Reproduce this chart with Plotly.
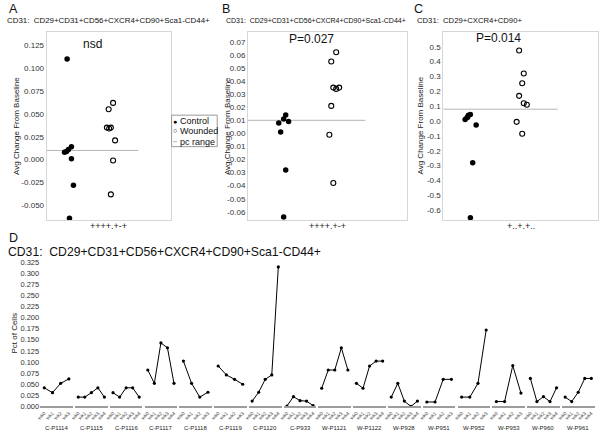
import plotly.graph_objects as go

W, H = 600, 439
FONT = "Liberation Sans, Arial, sans-serif"

# ---------------- data ----------------
# Panels A and B (same phenotype): avg change from baseline per subject
ab_ctrl = [0.110, 0.008, 0.011, 0.014, 0.009, 0.001, -0.028, -0.064]
ab_wound = [0.062, 0.055, 0.035, 0.034, 0.035, 0.021, -0.001, -0.038]
# Panel C
c_ctrl = [0.011, 0.024, 0.040, 0.044, 0.028, -0.026, -0.280, -0.651]
c_wound = [0.475, 0.320, 0.255, 0.170, 0.120, 0.110, -0.005, -0.085]
pc_range = [0.010, 0.010, 0.080]
# horizontal jitter of the points (fraction of the plot width)
a_ctrl_jit = [0.165, 0.144, 0.176, 0.200, 0.160, 0.200, 0.216, 0.184]
a_wound_jit = [0.536, 0.500, 0.486, 0.504, 0.518, 0.552, 0.536, 0.518]
b_ctrl_jit = [0.200, 0.194, 0.225, 0.238, 0.256, 0.206, 0.238, 0.225]
b_wound_jit = [0.556, 0.525, 0.538, 0.556, 0.575, 0.525, 0.513, 0.538]
c_ctrl_jit = [0.141, 0.154, 0.162, 0.175, 0.158, 0.212, 0.190, 0.175]
c_wound_jit = [0.490, 0.520, 0.510, 0.490, 0.520, 0.540, 0.474, 0.510]

# Panel D: pct of cells per visit, per subject
subjects = ["C-P1114", "C-P1115", "C-P1116", "C-P1117", "C-P1118", "C-P1119",
            "C-P1120", "C-P933", "W-P1121", "W-P1122", "W-P928", "W-P951",
            "W-P952", "W-P953", "W-P960", "W-P961"]
week_labels = ["wk0", "wk1", "wk2", "wk3", "wk4"]
c_p1114 = [0.042, 0.031, 0.052, 0.062]
c_p1115 = [0.021, 0.021, 0.031, 0.042, 0.021]
c_p1116 = [0.031, 0.021, 0.042, 0.042, 0.021]
c_p1117 = [0.082, 0.052, 0.143, 0.132, 0.052]
c_p1118 = [0.102, 0.052, 0.021, 0.032]
c_p1119 = [0.091, 0.071, 0.061, 0.050]
c_p1120 = [0.012, 0.032, 0.061, 0.071, 0.314]
c_p933 = [0.001, 0.022, 0.013, 0.012, 0.002]
w_p1121 = [0.041, 0.082, 0.082, 0.132, 0.082]
w_p1122 = [0.052, 0.041, 0.091, 0.102, 0.102]
w_p928 = [0.021, 0.052, 0.012, 0.000, 0.012]
w_p951 = [0.010, 0.010, 0.061, 0.061]
w_p952 = [0.021, 0.021, 0.052, 0.172]
w_p953 = [0.011, 0.011, 0.092, 0.030]
w_p960 = [0.063, 0.011, 0.022, 0.011, 0.042]
w_p961 = [0.021, 0.011, 0.032, 0.063, 0.063]
d_series = [c_p1114, c_p1115, c_p1116, c_p1117, c_p1118, c_p1119, c_p1120, c_p933,
            w_p1121, w_p1122, w_p928, w_p951, w_p952, w_p953, w_p960, w_p961]


def xd(px):
    return px / W


def yd(py):
    return 1 - py / H


fig = go.Figure()
ann = []
shapes = []

# ---------------- panels A, B, C ----------------
top_px, bot_px = 30, 222
abc = [
    dict(k="", x0=42, x1=167, ctrl=ab_ctrl, cj=a_ctrl_jit, wound=ab_wound, wj=a_wound_jit,
         pc=pc_range[0], rng=[-0.0665, 0.140], tick0=-0.050, dt=0.025, n=8, dec=3,
         title="CD31:\u00a0\u00a0CD29+CD31+CD56+CXCR4+CD90+Sca1-CD44+", tx=0, tfs=7.9,
         letter="A", lx=2, stat="nsd", sx=88, sy=43, xl="++++.+-+", ytx=12),
    dict(k="2", x0=245, x1=405, ctrl=ab_ctrl, cj=b_ctrl_jit, wound=ab_wound, wj=b_wound_jit,
         pc=pc_range[1], rng=[-0.0666, 0.0779], tick0=-0.06, dt=0.01, n=14, dec=2,
         title="CD31:\u00a0\u00a0CD29+CD31+CD56+CXCR4+CD90+Sca1-CD44+", tx=221, tfs=7.0,
         letter="B", lx=217, stat="P=0.027", sx=309, sy=38, xl="++++.+-+", ytx=225),
    dict(k="3", x0=442, x1=598, ctrl=c_ctrl, cj=c_ctrl_jit, wound=c_wound, wj=c_wound_jit,
         pc=pc_range[2], rng=[-0.669, 0.603], tick0=-0.6, dt=0.1, n=12, dec=1,
         title="CD31:\u00a0\u00a0CD29+CXCR4+CD90+", tx=413, tfs=7.7,
         letter="C", lx=410, stat="P=0.014", sx=498, sy=37, xl="+..+.+..", ytx=419),
]

for p in abc:
    k = p["k"]
    xa, ya = "x" + k, "y" + k
    fig.add_trace(go.Scatter(x=[0, 0.74], y=[p["pc"], p["pc"]], mode="lines",
                             line=dict(color="#b4b4b4", width=1), xaxis=xa, yaxis=ya,
                             hoverinfo="skip"))
    fig.add_trace(go.Scatter(x=p["cj"], y=p["ctrl"], mode="markers",
                             marker=dict(symbol="circle", size=5.5, color="black"),
                             xaxis=xa, yaxis=ya))
    fig.add_trace(go.Scatter(x=p["wj"], y=p["wound"], mode="markers",
                             marker=dict(symbol="circle-open", size=5, color="black",
                                         line=dict(width=1.1, color="black")),
                             xaxis=xa, yaxis=ya))
    tv = [round(p["tick0"] + i * p["dt"], 4) for i in range(p["n"])]
    tt = [f"{v:.{p['dec']}f}" for v in tv]
    fig.layout["xaxis" + k] = dict(domain=[xd(p["x0"]), xd(p["x1"])], anchor=ya,
                                   range=[0, 1], showticklabels=False, showgrid=False,
                                   zeroline=False, showline=True, mirror=True,
                                   linecolor="#d6d6d6", linewidth=1, ticks="")
    fig.layout["yaxis" + k] = dict(domain=[yd(bot_px), yd(top_px)], anchor=xa,
                                   range=p["rng"], tickvals=tv, ticktext=tt,
                                   tickfont=dict(size=8, color="#333"), showgrid=False,
                                   zeroline=False, showline=True, mirror=True,
                                   linecolor="#d6d6d6", linewidth=1, ticks="")
    ann.append(dict(text=p["letter"], x=xd(p["lx"]), y=yd(7.5), xanchor="left",
                    yanchor="middle", font=dict(size=12.5, color="#111")))
    ann.append(dict(text=p["title"], x=xd(p["tx"]), y=yd(18.5), xanchor="left",
                    yanchor="middle", font=dict(size=p["tfs"], color="#111")))
    ann.append(dict(text=p["stat"], x=xd(p["sx"]), y=yd(p["sy"]), xanchor="center",
                    yanchor="middle", font=dict(size=12, color="#111")))
    ann.append(dict(text=p["xl"], x=xd((p["x0"] + p["x1"]) / 2), y=yd(228),
                    xanchor="center", yanchor="middle", font=dict(size=9, color="#222")))
    ann.append(dict(text="Avg Change From Baseline", x=xd(p["ytx"]), y=yd(126),
                    textangle=-90, xanchor="center", yanchor="middle",
                    font=dict(size=8, color="#222")))

# legend of panel A
shapes.append(dict(type="rect", xref="paper", yref="paper", x0=xd(168), x1=xd(214),
                   y0=yd(147), y1=yd(115), line=dict(color="#999", width=1)))
shapes.append(dict(type="line", xref="paper", yref="paper", x0=xd(169.5), x1=xd(173.5),
                   y0=yd(142), y1=yd(142), line=dict(color="#b4b4b4", width=1)))
ann.append(dict(text="\u25cf", x=xd(171.5), y=yd(121), xanchor="center", yanchor="middle",
                font=dict(size=7, color="black")))
ann.append(dict(text="\u25cb", x=xd(171.5), y=yd(131), xanchor="center", yanchor="middle",
                font=dict(size=7, color="black")))
for txt, yy in [("Control", 121), ("Wounded", 131.5), ("pc range", 142)]:
    ann.append(dict(text=txt, x=xd(174), y=yd(yy), xanchor="left", yanchor="middle",
                    font=dict(size=9, color="#111")))

# ---------------- panel D ----------------
ann.append(dict(text="D", x=xd(2), y=yd(240), xanchor="left", yanchor="middle",
                font=dict(size=12.5, color="#111")))
ann.append(dict(text="CD31:\u00a0\u00a0CD29+CD31+CD56+CXCR4+CD90+Sca1-CD44+", x=xd(1),
                y=yd(254.5), xanchor="left", yanchor="middle", font=dict(size=12.2, color="#111")))
ann.append(dict(text="Pct of Cells", x=xd(10), y=yd(337), textangle=-90, xanchor="center",
                yanchor="middle", font=dict(size=8, color="#222")))

d_ticks = [round(i * 0.025, 3) for i in range(14)]
for i, (name, vals) in enumerate(zip(subjects, d_series)):
    k = str(i + 4)
    xa, ya = "x" + k, "y" + k
    wk = week_labels[:len(vals)]
    fig.add_trace(go.Scatter(x=wk, y=vals, mode="lines+markers",
                             line=dict(color="black", width=1),
                             marker=dict(size=3.2, color="black"),
                             cliponaxis=False, xaxis=xa, yaxis=ya))
    c = 52 + 35.07 * i
    fig.layout["xaxis" + k] = dict(domain=[xd(c - 16.5), xd(c + 16.5)], anchor=ya,
                                   type="category", categoryorder="array",
                                   categoryarray=wk, range=[-0.5, len(wk) - 0.5],
                                   tickangle=-45, tickfont=dict(size=5, color="#444"),
                                   showline=True, linecolor="#9c9c9c", linewidth=2.2,
                                   showgrid=False, zeroline=False, ticks="")
    yax = dict(domain=[yd(411), yd(262)], anchor=xa, range=[0, 0.330],
               showgrid=False, zeroline=False, showline=False, ticks="",
               tickvals=d_ticks, ticktext=[f"{v:.3f}" for v in d_ticks],
               tickfont=dict(size=7.5, color="#333"), showticklabels=(i == 0))
    if i > 0:
        yax["matches"] = "y4"
    fig.layout["yaxis" + k] = yax
    ann.append(dict(text=name, xref=xa + " domain", x=0.5, y=yd(433), xanchor="center",
                    yanchor="middle", font=dict(size=6, color="#222")))

for a in ann:
    a.setdefault("xref", "paper")
    a.setdefault("yref", "paper")
    a["showarrow"] = False

fig.update_layout(width=W, height=H, margin=dict(l=0, r=0, t=0, b=0),
                  paper_bgcolor="white", plot_bgcolor="white", showlegend=False,
                  font=dict(family=FONT, color="#222"), annotations=ann, shapes=shapes)

fig.write_html("out.html", config={"displayModeBar": False},
               post_script="document.body.style.margin='0px';"
                           "document.body.style.overflow='hidden';")
